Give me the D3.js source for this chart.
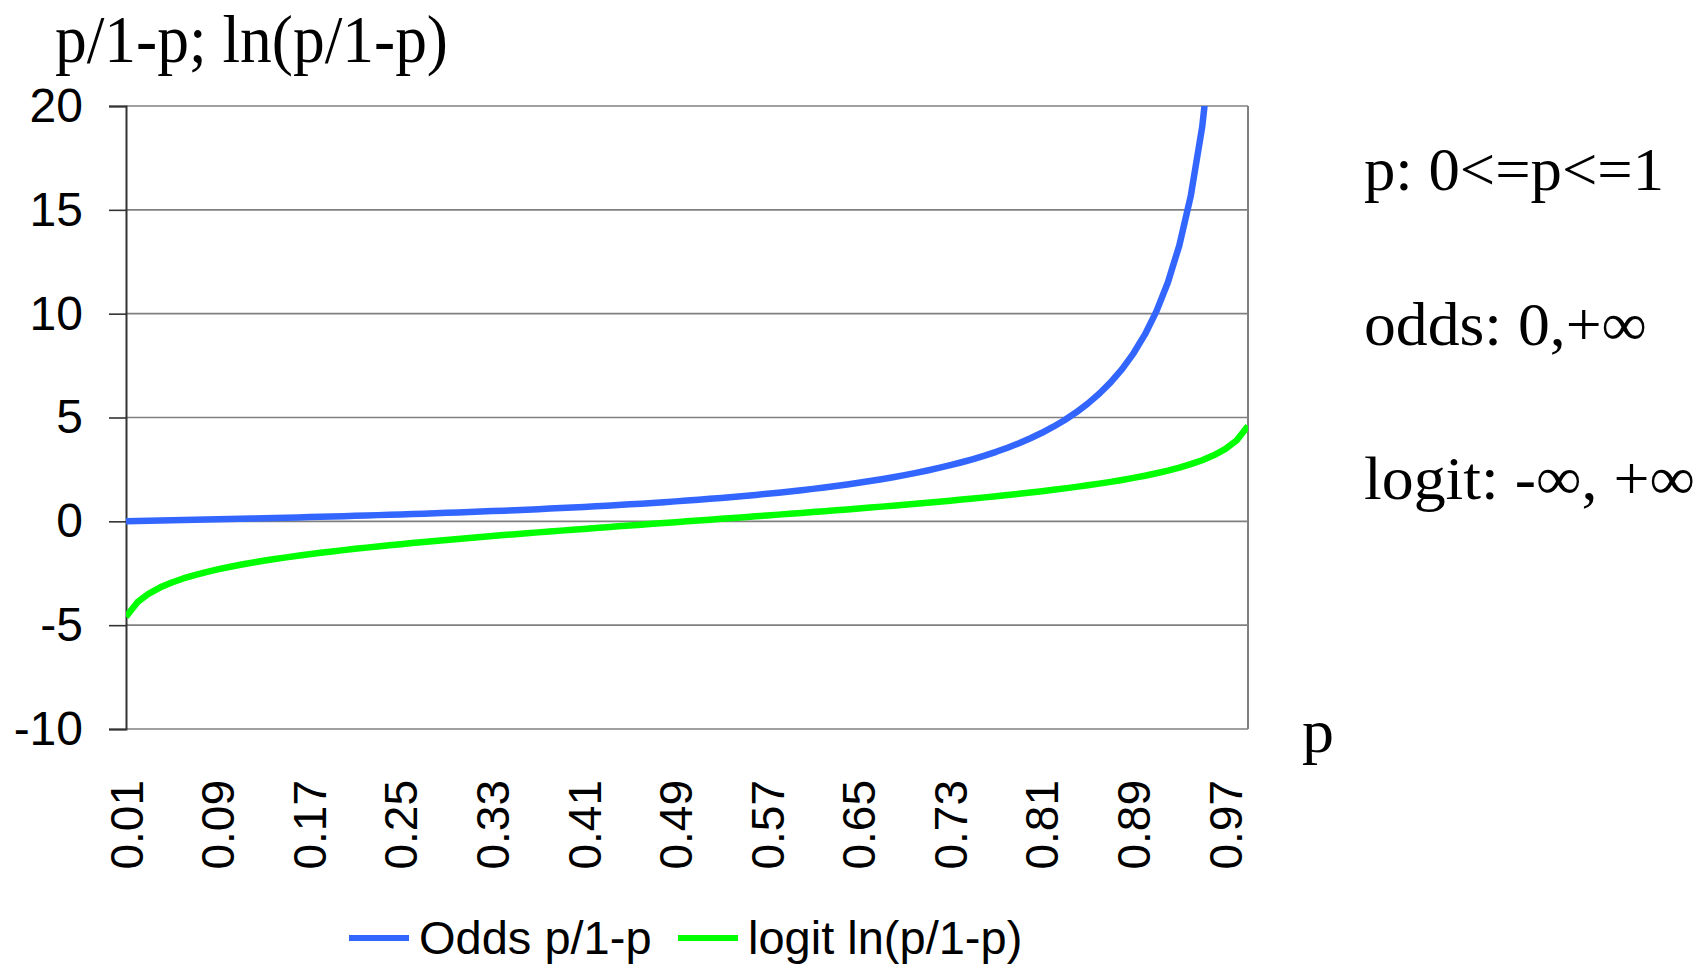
<!DOCTYPE html>
<html>
<head>
<meta charset="utf-8">
<script src="https://cdn.jsdelivr.net/npm/d3@7"></script>
<style>
  body { margin: 0; background: #fff; }
  svg { display: block; }
</style>
</head>
<body>
<div id="chart"></div>
<script>
// categories (p) and the two series
var pValues = [0.01,0.02,0.03,0.04,0.05,0.06,0.07,0.08,0.09,0.10,
  0.11,0.12,0.13,0.14,0.15,0.16,0.17,0.18,0.19,0.20,
  0.21,0.22,0.23,0.24,0.25,0.26,0.27,0.28,0.29,0.30,
  0.31,0.32,0.33,0.34,0.35,0.36,0.37,0.38,0.39,0.40,
  0.41,0.42,0.43,0.44,0.45,0.46,0.47,0.48,0.49,0.50,
  0.51,0.52,0.53,0.54,0.55,0.56,0.57,0.58,0.59,0.60,
  0.61,0.62,0.63,0.64,0.65,0.66,0.67,0.68,0.69,0.70,
  0.71,0.72,0.73,0.74,0.75,0.76,0.77,0.78,0.79,0.80,
  0.81,0.82,0.83,0.84,0.85,0.86,0.87,0.88,0.89,0.90,
  0.91,0.92,0.93,0.94,0.95,0.96,0.97,0.98,0.99];

var oddsValues = [0.010,0.020,0.031,0.042,0.053,0.064,0.075,0.087,0.099,0.111,
  0.124,0.136,0.149,0.163,0.176,0.190,0.205,0.220,0.235,0.250,
  0.266,0.282,0.299,0.316,0.333,0.351,0.370,0.389,0.408,0.429,
  0.449,0.471,0.493,0.515,0.538,0.563,0.587,0.613,0.639,0.667,
  0.695,0.724,0.754,0.786,0.818,0.852,0.887,0.923,0.961,1.000,
  1.041,1.083,1.128,1.174,1.222,1.273,1.326,1.381,1.439,1.500,
  1.564,1.632,1.703,1.778,1.857,1.941,2.030,2.125,2.226,2.333,
  2.448,2.571,2.704,2.846,3.000,3.167,3.348,3.545,3.762,4.000,
  4.263,4.556,4.882,5.250,5.667,6.143,6.692,7.333,8.091,9.000,
  10.111,11.500,13.286,15.667,19.000,24.000,32.333,49.000,99.000];

var logitValues = [-4.595,-3.892,-3.476,-3.178,-2.944,-2.752,-2.587,-2.442,-2.314,-2.197,
  -2.091,-1.992,-1.901,-1.815,-1.735,-1.658,-1.586,-1.516,-1.450,-1.386,
  -1.325,-1.266,-1.208,-1.153,-1.099,-1.046,-0.995,-0.944,-0.895,-0.847,
  -0.800,-0.754,-0.708,-0.663,-0.619,-0.575,-0.532,-0.490,-0.447,-0.405,
  -0.364,-0.323,-0.282,-0.241,-0.201,-0.160,-0.120,-0.080,-0.040,0.000,
  0.040,0.080,0.120,0.160,0.201,0.241,0.282,0.323,0.364,0.405,
  0.447,0.490,0.532,0.575,0.619,0.663,0.708,0.754,0.800,0.847,
  0.895,0.944,0.995,1.046,1.099,1.153,1.208,1.266,1.325,1.386,
  1.450,1.516,1.586,1.658,1.735,1.815,1.901,1.992,2.091,2.197,
  2.314,2.442,2.587,2.752,2.944,3.178,3.476,3.892,4.595];

var yTicks  = [-10, -5, 0, 5, 10, 15, 20];
var xLabels = ["0.01","0.09","0.17","0.25","0.33","0.41","0.49","0.57","0.65","0.73","0.81","0.89","0.97"];

var seriesNames = ["Odds p/1-p", "logit ln(p/1-p)"];
var notes = ["p: 0<=p<=1", "odds: 0,+\u221e", "logit: -\u221e, +\u221e"];

var W = 1708, H = 967;
var margin = {top: 106, right: 460, bottom: 238, left: 126},
    width  = W - margin.left - margin.right,
    height = H - margin.top - margin.bottom;

var sans  = "'Liberation Sans', Arial, sans-serif";
var serif = "'Liberation Serif', 'Times New Roman', serif";

var svg = d3.select("#chart").append("svg")
    .attr("width", W)
    .attr("height", H);

var g = svg.append("g")
    .attr("transform", "translate(" + margin.left + "," + margin.top + ")");

// x is a point scale over the categories, first and last on the plot edges
var x = d3.scalePoint()
  .domain(pValues)
  .range([0, width]);

var y = d3.scaleLinear()
  .domain([-10, 20])
  .range([height, 0]);

// gridlines
g.append("g")
  .selectAll("line")
  .data(yTicks)
  .enter().append("line")
    .attr("x1", 0)
    .attr("x2", width)
    .attr("y1", function(d) { return y(d); })
    .attr("y2", function(d) { return y(d); })
    .attr("stroke", "#808080")
    .attr("stroke-width", 1.6);

// right border
g.append("line")
  .attr("x1", width).attr("x2", width)
  .attr("y1", 0).attr("y2", height)
  .attr("stroke", "#808080")
  .attr("stroke-width", 2);

// y axis (plain hyphen for negatives, like the original)
var yAxis = g.append("g")
  .call(d3.axisLeft(y).tickValues(yTicks).tickSize(17).tickPadding(26)
    .tickFormat(function(d) { return String(d); }));
yAxis.select(".domain").attr("stroke", "#333").attr("stroke-width", 2);
yAxis.selectAll(".tick line").attr("stroke", "#333").attr("stroke-width", 1.6);
yAxis.selectAll("text")
  .attr("fill", "#000")
  .style("font-family", sans)
  .style("font-size", "48px");

// x labels, rotated
g.append("g")
  .selectAll("text")
  .data(xLabels)
  .enter().append("text")
    .attr("transform", function(d) {
      return "translate(" + x(+d) + "," + (height + 51) + ")rotate(-90)";
    })
    .attr("text-anchor", "end")
    .attr("dy", "0.36em")
    .style("font-family", sans)
    .style("font-size", "46px")
    .text(function(d) { return d; });

// lines, clipped to the plot area
svg.append("clipPath").attr("id", "plotclip")
  .append("rect")
    .attr("x", 0).attr("y", 0)
    .attr("width", width).attr("height", height);

var line = d3.line()
  .x(function(d, i) { return x(pValues[i]); })
  .y(function(d) { return y(d); });

var lines = g.append("g").attr("clip-path", "url(#plotclip)");

lines.append("path")
  .datum(logitValues)
  .attr("fill", "none")
  .attr("stroke", "#00FF00")
  .attr("stroke-width", 6.5)
  .attr("stroke-linejoin", "round")
  .attr("d", line);

lines.append("path")
  .datum(oddsValues)
  .attr("fill", "none")
  .attr("stroke", "#3366FF")
  .attr("stroke-width", 6.5)
  .attr("stroke-linejoin", "round")
  .attr("d", line);

// axis titles
svg.append("text")
  .attr("x", 55).attr("y", 62)
  .attr("textLength", 393)
  .attr("lengthAdjust", "spacingAndGlyphs")
  .style("font-family", serif)
  .style("font-size", "67px")
  .text("p/1-p; ln(p/1-p)");

svg.append("text")
  .attr("x", 1302).attr("y", 752)
  .attr("textLength", 32)
  .attr("lengthAdjust", "spacingAndGlyphs")
  .style("font-family", serif)
  .style("font-size", "62px")
  .text("p");

// notes on the right
var noteY = [190, 345, 499], noteW = [300, 283, 331];
svg.append("g")
  .selectAll("text")
  .data(notes)
  .enter().append("text")
    .attr("x", 1364)
    .attr("y", function(d, i) { return noteY[i]; })
    .attr("textLength", function(d, i) { return noteW[i]; })
    .attr("lengthAdjust", "spacingAndGlyphs")
    .style("font-family", serif)
    .style("font-size", "61px")
    .text(function(d) { return d; });

// legend
var legendColors = ["#3366FF", "#00FF00"];
var legendX = [349, 678];
var legend = svg.append("g")
  .selectAll("g")
  .data(seriesNames)
  .enter().append("g")
    .attr("transform", function(d, i) { return "translate(" + legendX[i] + ",938)"; });

legend.append("line")
  .attr("x1", 0).attr("x2", 60)
  .attr("stroke", function(d, i) { return legendColors[i]; })
  .attr("stroke-width", 6);

legend.append("text")
  .attr("x", 70)
  .attr("y", 16)
  .style("font-family", sans)
  .style("font-size", "47px")
  .text(function(d) { return d; });
</script>
</body>
</html>
